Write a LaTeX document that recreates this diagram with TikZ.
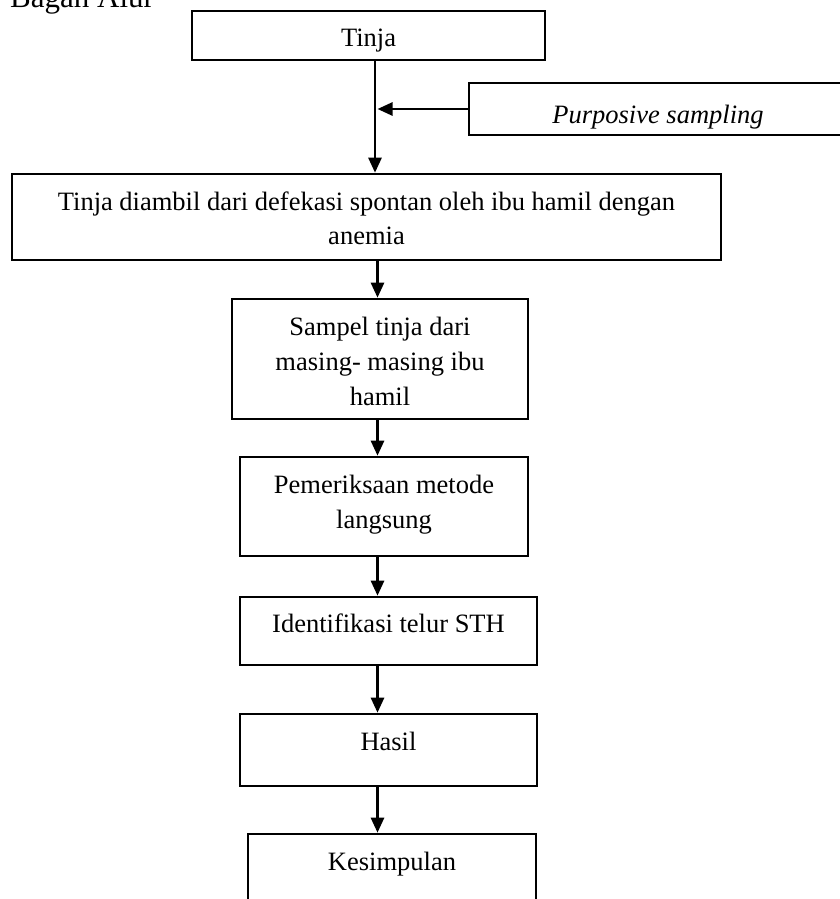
\documentclass[tikz,border=0pt]{standalone}
\usepackage{fontspec}
\setmainfont{Liberation Serif}
\usetikzlibrary{arrows.meta,fit}
\begin{document}
\begin{tikzpicture}[x=1pt,y=-1pt,
  box/.style={draw, line width=2.6pt, inner sep=0pt},
  txt/.style={anchor=base, inner sep=0pt, font=\fontsize{26.5}{35}\selectfont},
  arr/.style={line width=2.6pt, -{Triangle[length=15pt,width=13pt]}}]
\useasboundingbox (0,0) rectangle (840,899);
\clip (0,0) rectangle (840,899);

% title (cut off at the top)
\node[anchor=base west, inner sep=0pt, font=\fontsize{31}{36}\selectfont] (title) at (10,8) {Bagan Alur};

% boxes
\node[box, fit={(192,11) (545,60)}] (tinja) {};
\node[box, fit={(469,83) (850,135)}] (purp) {};
\node[box, fit={(12,174) (721,260)}] (big) {};
\node[box, fit={(232,299) (528,419)}] (sampel) {};
\node[box, fit={(240,457) (528,556)}] (pem) {};
\node[box, fit={(240,597) (537,665)}] (ident) {};
\node[box, fit={(240,714) (537,786)}] (hasil) {};
\node[box, fit={(248,834) (536,910)}] (kes) {};

% texts
\node[txt] (t1) at (368.5,47) {Tinja};
\node[txt, font=\fontsize{26.5}{35}\selectfont\itshape] (t2) at (658,123) {Purposive sampling};
\node[txt] (t3a) at (366.5,210) {Tinja diambil dari defekasi spontan oleh ibu hamil dengan};
\node[txt] (t3b) at (366.5,244) {anemia};
\node[txt] (t4a) at (380,335) {Sampel tinja dari};
\node[txt] (t4b) at (380,370) {masing- masing ibu};
\node[txt] (t4c) at (380,405) {hamil};
\node[txt] (t5a) at (384,493) {Pemeriksaan metode};
\node[txt] (t5b) at (384,528) {langsung};
\node[txt] (t6) at (388.5,632) {Identifikasi telur STH};
\node[txt] (t7) at (388.5,750) {Hasil};
\node[txt] (t8) at (392,870) {Kesimpulan};

% connector guides
\coordinate (c1) at (375,0);
\coordinate (c2) at (377.5,0);
\coordinate (pj) at (377.5,109);

% connectors
\draw[arr] (tinja.south -| c1) -- (big.north -| c1);
\draw[arr] (purp.west) -- (pj);
\draw[arr] (big.south -| c2) -- (sampel.north -| c2);
\draw[arr] (sampel.south -| c2) -- (pem.north -| c2);
\draw[arr] (pem.south -| c2) -- (ident.north -| c2);
\draw[arr] (ident.south -| c2) -- (hasil.north -| c2);
\draw[arr] (hasil.south -| c2) -- (kes.north -| c2);
\end{tikzpicture}
\end{document}
